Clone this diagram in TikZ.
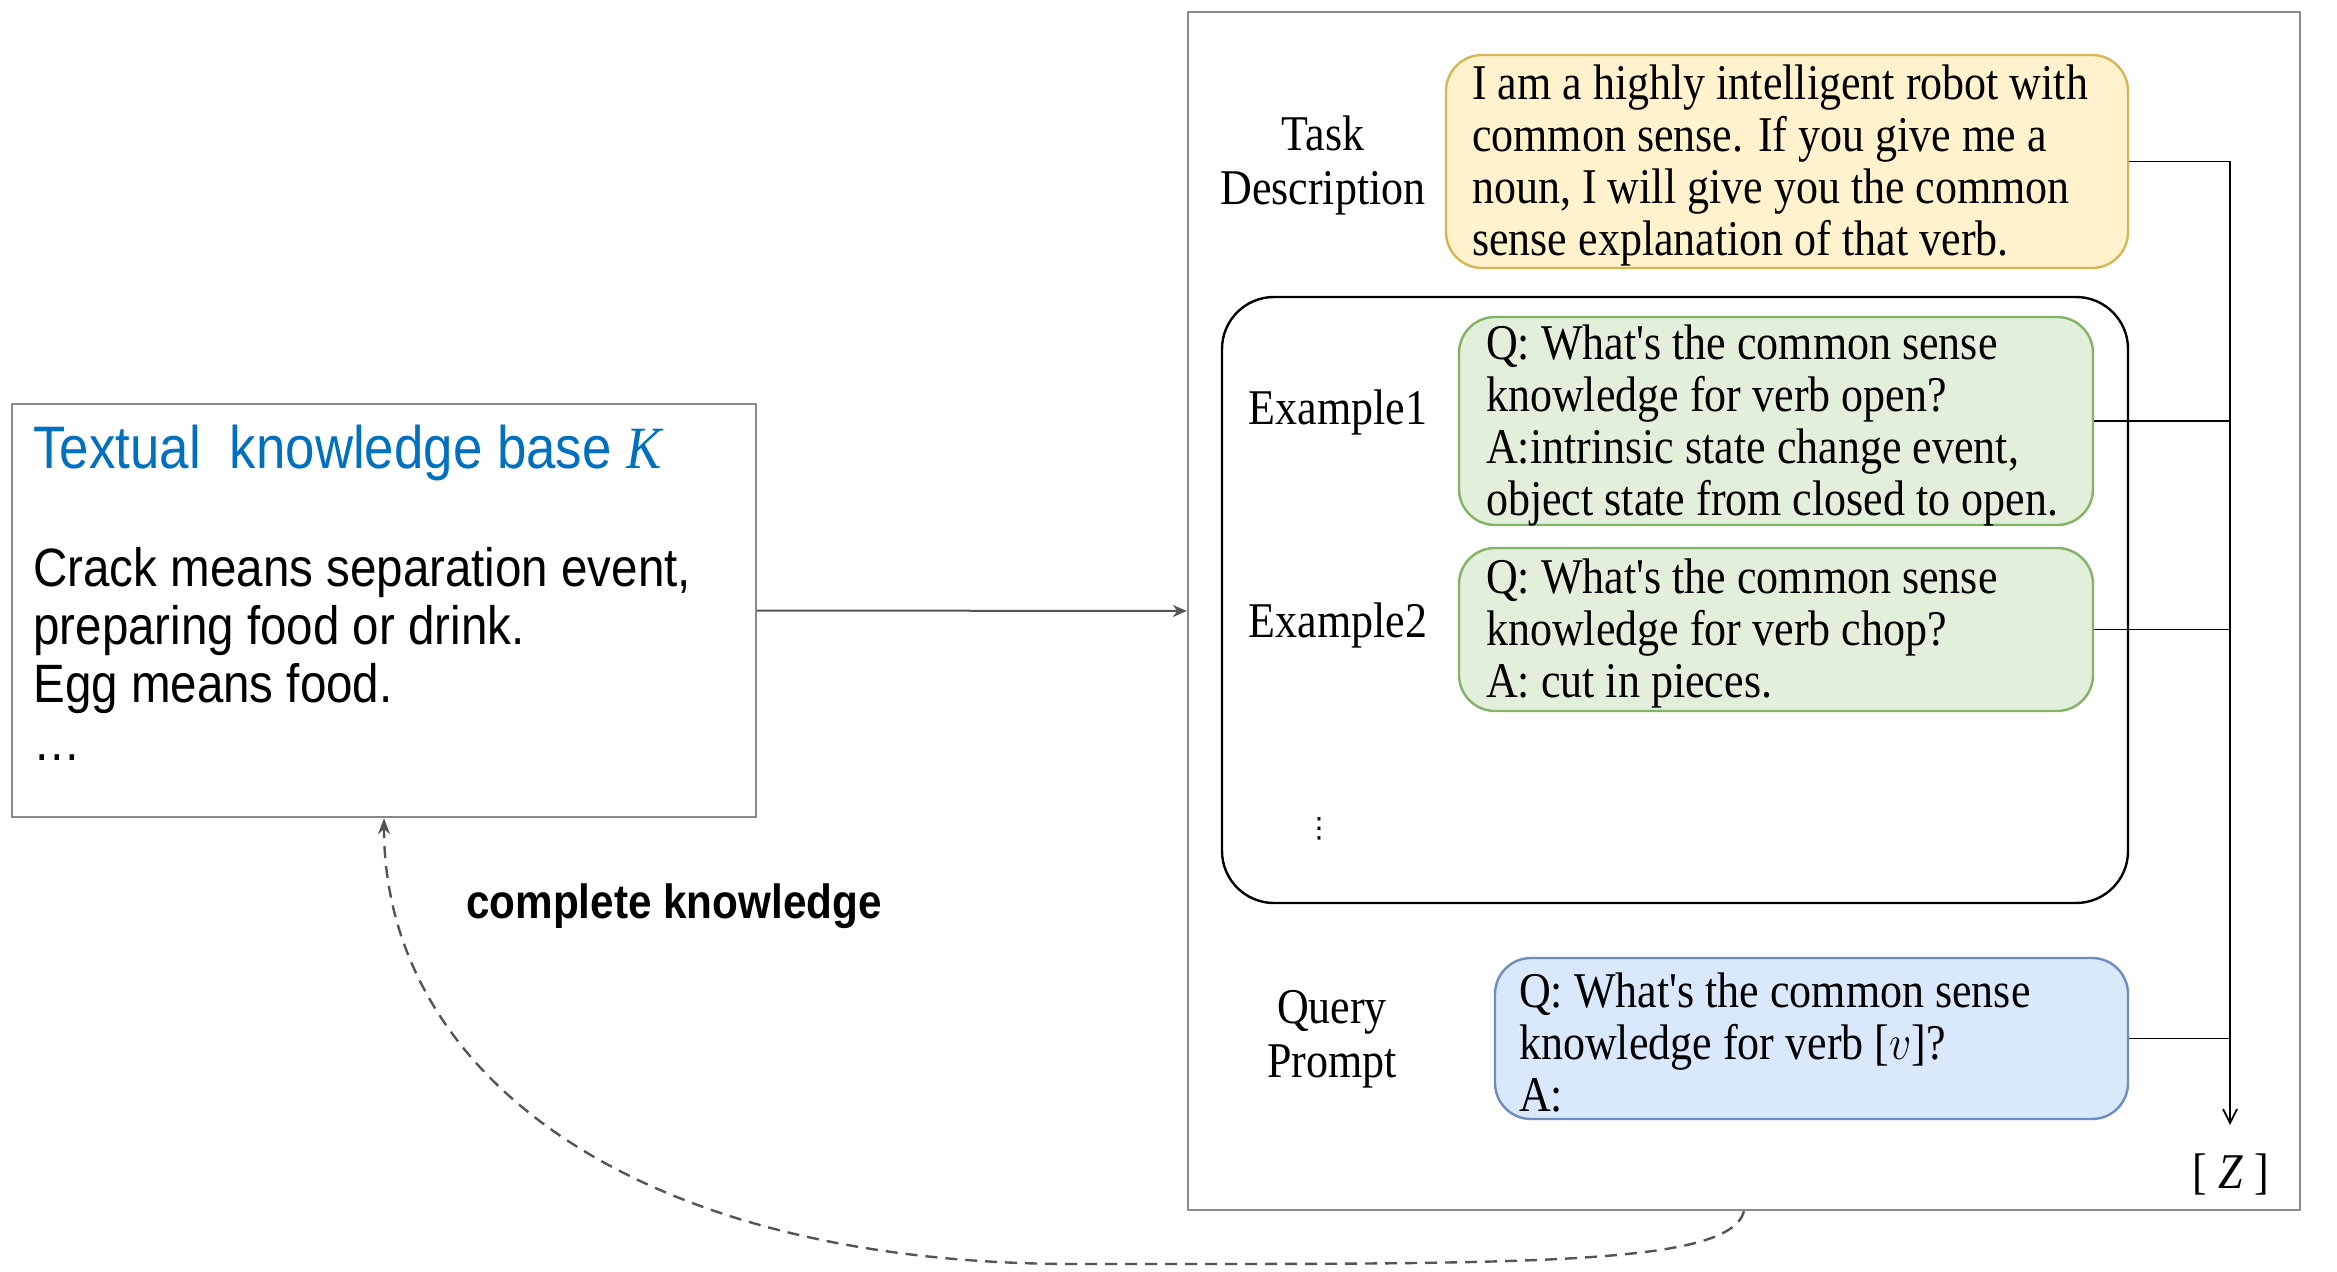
\documentclass[tikz,border=0pt]{standalone}
\usepackage{fontspec}
\setmainfont{Liberation Serif}
\setsansfont{Liberation Sans}
\newfontfamily\dejavusans{DejaVu Sans}
\usepackage{graphicx}
\usetikzlibrary{arrows.meta}
\definecolor{kblue}{HTML}{0070C0}
\definecolor{yfill}{HTML}{FFF2CC}
\definecolor{ydraw}{HTML}{D6B656}
\definecolor{gfill}{HTML}{E2EFDA}
\definecolor{gdraw}{HTML}{82B366}
\definecolor{bfill}{HTML}{DAE8FC}
\definecolor{bdraw}{HTML}{6C8EBF}
\definecolor{framegray}{HTML}{8A8A8A}
\definecolor{arrgray}{HTML}{555555}
\newcommand{\sq}[1]{\scalebox{0.88}[1]{#1}}
\newcommand{\ap}{\textquotesingle}
\begin{document}
\begin{tikzpicture}[x=0.5pt,y=-0.5pt,
  outerbox/.style={draw=framegray,line width=1.2pt,inner sep=0pt},
  rbox/.style={line width=1.2pt,rounded corners=18pt,inner sep=0pt},
  txt/.style={anchor=west,inner sep=0pt,align=left,font=\fontsize{25}{26}\selectfont,yshift=-2.2pt},
  lbl/.style={inner sep=0pt,align=center,font=\fontsize{25}{27}\selectfont,yshift=-2pt},
  conn/.style={draw=black,line width=0.9pt}]
\useasboundingbox (0,0) rectangle (2337,1272);
\fill[white] (0,0) rectangle (2337,1272);

% left knowledge base
\node (kb) [outerbox,minimum width=372pt,minimum height=206.5pt] at (384,610.5) {};
\node (kbtitle) [anchor=north west,inner sep=0pt,text=kblue,font=\sffamily\fontsize{30}{36}\selectfont] at (33,425)
  {\sq{Textual\ \ knowledge base \textit{\rmfamily K}}};
\node (kbtext) [anchor=north west,inner sep=0pt,align=left,font=\sffamily\fontsize{27}{29}\selectfont] at (33,547)
  {\sq{Crack means separation event,}\\\sq{preparing food or drink.}\\\sq{Egg means food.}\\\sq{…}};

% right prompt frame
\node (rb) [outerbox,minimum width=556pt,minimum height=599pt] at (1744,611) {};

\node (tasklbl) [lbl] at (1323,161) {\sq{Task}\\\sq{Description}};
\node (yel) [rbox,fill=yfill,draw=ydraw,minimum width=341pt,minimum height=106.5pt] at (1787,161.5) {};
\node (yeltext) [txt] at ([xshift=13.5pt]yel.west)
  {\sq{I am a highly intelligent robot with}\\\sq{common sense. If you give me a}\\\sq{noun, I will give you the common}\\\sq{sense explanation of that verb.}};

\node (ex) [draw=black,line width=1.2pt,rounded corners=26pt,inner sep=0pt,minimum width=453pt,minimum height=303pt] at (1675,600) {};

\node (ex1lbl) [lbl] at (1338,408) {\sq{Example1}};
\node (g1) [rbox,fill=gfill,draw=gdraw,minimum width=317pt,minimum height=104pt] at (1776,421) {};
\node (g1text) [txt] at ([xshift=14pt]g1.west)
  {\sq{Q: What\ap s the common sense}\\\sq{knowledge for verb open?}\\\sq{A:intrinsic state change event,}\\\sq{object state from closed to open.}};

\node (ex2lbl) [lbl] at (1338,621) {\sq{Example2}};
\node (g2) [rbox,fill=gfill,draw=gdraw,minimum width=317pt,minimum height=81.5pt] at (1776,629.5) {};
\node (g2text) [txt] at ([xshift=14pt]g2.west)
  {\sq{Q: What\ap s the common sense}\\\sq{knowledge for verb chop?}\\\sq{A: cut in pieces.}};

\node (dots) [inner sep=0pt,font=\dejavusans\fontsize{14}{16}\selectfont] at (1319,829) {⋮};

\node (qlbl) [lbl] at (1332,1035) {\sq{Query}\\\sq{Prompt}};
\node (bl) [rbox,fill=bfill,draw=bdraw,minimum width=316.5pt,minimum height=80.5pt] at (1811.5,1038.5) {};
\node (bltext) [txt] at ([xshift=12.5pt]bl.west)
  {\sq{Q: What\ap s the common sense}\\\sq{knowledge for verb [$v$]?}\\\sq{A:}};

\node (zl) [lbl] at (2231,1170) {\sq{[ \textit{Z} ]}};
\coordinate (zend) at (2230,1125);

% connectors
\draw[conn,-{Straight Barb[length=7pt,width=7pt]}] (yel.east) -| (zend);
\draw[conn] (g1.east) -- (g1.east -| zend);
\draw[conn] (g2.east) -- (g2.east -| zend);
\draw[conn] (bl.east) -- (bl.east -| zend);

\draw[draw=arrgray,line width=1pt,-{Stealth[length=7pt,width=6pt]}] (kb.east) -- (rb.west);

\draw[draw=arrgray,line width=1.2pt,dash pattern=on 6pt off 4pt,-{Stealth[length=8pt,width=6pt]}]
  (rb.south) .. controls +(-15,55) and +(450,0) .. (1075,1264)
  .. controls +(-450,0) and +(0,250) .. (kb.south);

\node (ck) [inner sep=0pt,font=\sffamily\bfseries\fontsize{24}{28}\selectfont] at (674,906) {\sq{complete knowledge}};
\end{tikzpicture}
\end{document}
